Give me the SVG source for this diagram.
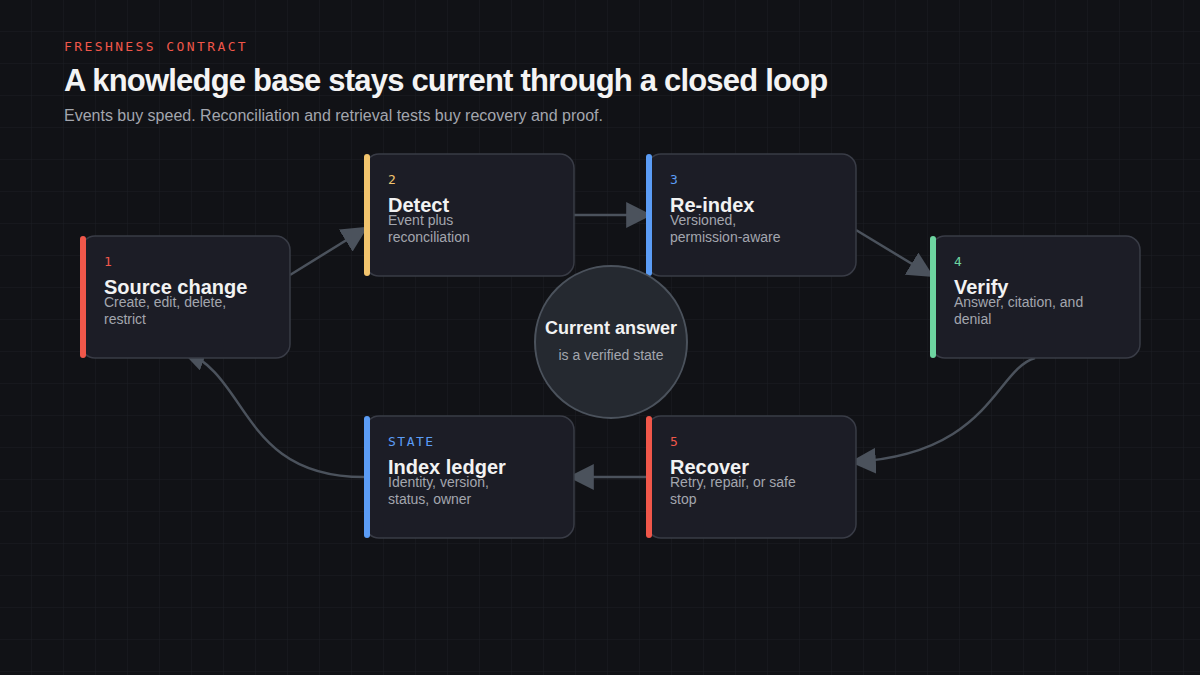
<svg xmlns="http://www.w3.org/2000/svg" width="1200" height="675" viewBox="0 0 1200 675">
<defs>
<pattern id="grid" width="32" height="32" patternUnits="userSpaceOnUse"><path d="M32 0V32H0" fill="none" stroke="#1c1e24" stroke-width="1"/></pattern>
<marker id="a" viewBox="0 0 24 24" refX="22" refY="12" markerWidth="26" markerHeight="26" markerUnits="userSpaceOnUse" orient="auto"><path d="M0 0L24 12L0 24z" fill="#4b525c"/></marker>
<style>
.box{fill:#1c1d26;stroke:#393c46;stroke-width:1.5}
.num{font-family:"DejaVu Sans Mono","Liberation Mono",monospace;font-size:13px}
.ttl{font-family:"Liberation Sans",Arial,sans-serif;font-weight:bold;font-size:20px;fill:#f2f2f2}
.dsc{font-family:"Liberation Sans",Arial,sans-serif;font-size:14px;fill:#a3a6ae}
.con{fill:none;stroke:#4b525c;stroke-width:2.5;marker-end:url(#a)}
</style>
</defs>
<rect width="1200" height="675" fill="#111216"/>
<rect width="1200" height="675" fill="url(#grid)"/>
<text x="64" y="51" font-family="DejaVu Sans Mono,Liberation Mono,monospace" font-size="13" letter-spacing="2.4" fill="#f0574a">FRESHNESS CONTRACT</text>
<text x="64" y="91" font-family="Liberation Sans,Arial,sans-serif" font-weight="bold" font-size="31" letter-spacing="-0.8" fill="#f4f4f4">A knowledge base stays current through a closed loop</text>
<text x="64" y="121" font-family="Liberation Sans,Arial,sans-serif" font-size="16" fill="#a3a6ae">Events buy speed. Reconciliation and retrieval tests buy recovery and proof.</text>
<g id="connectors">
<path class="con" d="M290 275L366 228"/>
<path class="con" d="M574 215L650 215"/>
<path class="con" d="M856 230L932 276"/>
<path class="con" d="M1035 358C995 370 990 455 852 462"/>
<path class="con" d="M646 477L570 477"/>
<path class="con" d="M364 477C240 477 250 375 182 350"/>
</g>
<g id="n1"><rect class="box" x="81" y="236" width="209" height="122" rx="14"/><rect x="80" y="236" width="6" height="122" rx="3" fill="#f0574a"/><text class="num" x="104" y="266" fill="#f0574a">1</text><text class="ttl" x="104" y="294">Source change</text><text class="dsc" x="104" y="307">Create, edit, delete,</text><text class="dsc" x="104" y="324">restrict</text></g>
<g id="n2"><rect class="box" x="365" y="154" width="209" height="122" rx="14"/><rect x="364" y="154" width="6" height="122" rx="3" fill="#f2c46d"/><text class="num" x="388" y="184" fill="#f2c46d">2</text><text class="ttl" x="388" y="212">Detect</text><text class="dsc" x="388" y="225">Event plus</text><text class="dsc" x="388" y="242">reconciliation</text></g>
<g id="n3"><rect class="box" x="647" y="154" width="209" height="122" rx="14"/><rect x="646" y="154" width="6" height="122" rx="3" fill="#5b9cf5"/><text class="num" x="670" y="184" fill="#5b9cf5">3</text><text class="ttl" x="670" y="212">Re-index</text><text class="dsc" x="670" y="225">Versioned,</text><text class="dsc" x="670" y="242">permission-aware</text></g>
<g id="n4"><rect class="box" x="931" y="236" width="209" height="122" rx="14"/><rect x="930" y="236" width="6" height="122" rx="3" fill="#6dd4a0"/><text class="num" x="954" y="266" fill="#6dd4a0">4</text><text class="ttl" x="954" y="294">Verify</text><text class="dsc" x="954" y="307">Answer, citation, and</text><text class="dsc" x="954" y="324">denial</text></g>
<g id="n5"><rect class="box" x="647" y="416" width="209" height="122" rx="14"/><rect x="646" y="416" width="6" height="122" rx="3" fill="#f0574a"/><text class="num" x="670" y="446" fill="#f0574a">5</text><text class="ttl" x="670" y="474">Recover</text><text class="dsc" x="670" y="487">Retry, repair, or safe</text><text class="dsc" x="670" y="504">stop</text></g>
<g id="ledger"><rect class="box" x="365" y="416" width="209" height="122" rx="14"/><rect x="364" y="416" width="6" height="122" rx="3" fill="#5b9cf5"/><text class="num" x="388" y="446" fill="#5b9cf5" letter-spacing="1.5">STATE</text><text class="ttl" x="388" y="474">Index ledger</text><text class="dsc" x="388" y="487">Identity, version,</text><text class="dsc" x="388" y="504">status, owner</text></g>
<g id="center"><circle cx="611" cy="342" r="76" fill="#252930" stroke="#4b525c" stroke-width="2"/><text x="611" y="334" text-anchor="middle" font-family="Liberation Sans,Arial,sans-serif" font-weight="bold" font-size="18" fill="#f2f2f2">Current answer</text><text x="611" y="360" text-anchor="middle" font-family="Liberation Sans,Arial,sans-serif" font-size="14" fill="#a3a6ae">is a verified state</text></g>
</svg>
